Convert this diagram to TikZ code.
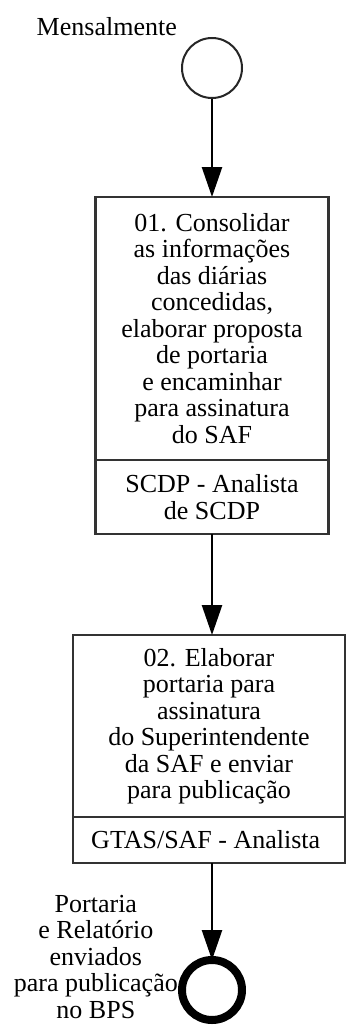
\documentclass[tikz,border=0pt]{standalone}
\usepackage{fontspec}
\setmainfont{Liberation Serif}
\usetikzlibrary{positioning, arrows.meta}

\begin{document}
\begin{tikzpicture}[
        x=1pt, y=1pt,
        font=\fontsize{26pt}{26.5pt}\selectfont,
        task/.style={
            rectangle, draw=black!80, line width=2.5pt, outer sep=0pt,
            align=center, inner sep=2pt
        },
        lane/.style={
            rectangle, draw=black!80, line width=2.5pt, outer sep=0pt,
            align=center, inner sep=2pt
        },
        startev/.style={circle, draw=black!85, line width=2pt, minimum size=60pt},
        endev/.style={circle, draw=black, line width=8pt, minimum size=60pt, outer sep=0pt},
        arrow/.style={line width=2.5pt, -{Triangle[length=30pt,width=20pt]}}
    ]
    \useasboundingbox (0,0) rectangle (346,-1025);

    % Start event
    \node (start) [startev] at (212,-68) {};
    \node (mens) [left=4pt of start, yshift=41pt, inner sep=0pt] {Mensalmente};

    % Tasks
    \node (t1) [task, below=98pt of start, minimum width=233pt, minimum height=263pt] {
        01. Consolidar\\ as informações\\ das diárias\\ concedidas,\\ elaborar proposta\\
        de portaria\\ e encaminhar\\ para assinatura\\ do SAF
    };
    \node (l1) [lane, below=0pt of t1, minimum width=233pt, minimum height=74pt] {
        SCDP - Analista\\ de SCDP
    };

    \node (t2) [task, below=101pt of l1, xshift=-3pt, minimum width=272pt, minimum height=182pt] {
        02. Elaborar\\ portaria para\\ assinatura\\ do Superintendente\\ da SAF e enviar\\ para publicação
    };
    \node (l2) [lane, below=0pt of t2, minimum width=272pt, minimum height=46pt] {
        GTAS/SAF - Analista
    };

    % End event
    \node (end) [endev, below=97pt of l2, xshift=3pt] {};
    \node (endlabel) [left=4pt of end, yshift=33pt, inner sep=0pt, align=center] {
        Portaria\\ e Relatório\\ enviados\\ para publicação\\ no BPS
    };

    % Flow
    \draw [arrow] (start.south) -- (t1.north);
    \draw [arrow] (l1.south) -- (l1.south |- t2.north);
    \draw [arrow] (l2.south -| end.north) -- (end.north);

\end{tikzpicture}
\end{document}
